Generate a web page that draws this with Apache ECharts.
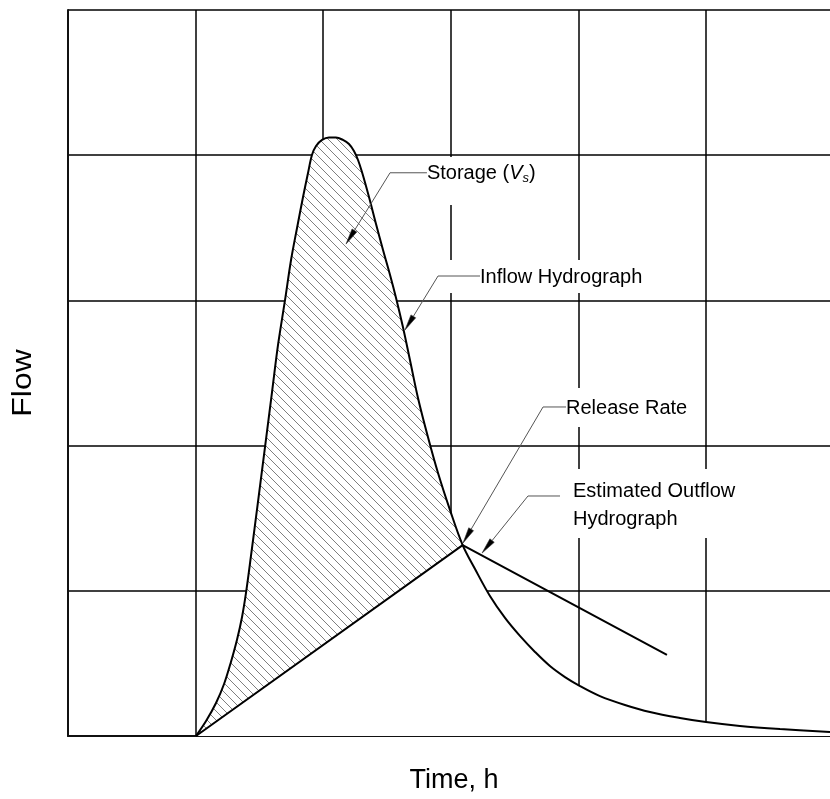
<!DOCTYPE html>
<html><head><meta charset="utf-8">
<script src="https://cdn.jsdelivr.net/npm/echarts@6/dist/echarts.min.js"></script>
<style>html,body{margin:0;padding:0;background:#fff}#c{width:830px;height:799px}</style>
</head><body><div id="c"></div>
<script>
// ---- data (grid units: 1 cell = 1 unit) ----
const xMin = 0, xMax = 5.972;   // the 6th cell is cut by the picture edge
const yMin = 0, yMax = 5;
const inflowX = [1.003, 1.082, 1.160, 1.223, 1.277, 1.324, 1.364, 1.395, 1.434, 1.489, 1.544, 1.599, 1.646, 1.701, 1.748, 1.795, 1.842, 1.881, 1.912, 1.944, 1.991, 2.045, 2.100, 2.155, 2.202, 2.241, 2.273, 2.304, 2.359, 2.414, 2.469, 2.524, 2.571, 2.625, 2.680, 2.743, 2.821, 2.900, 2.994, 3.093, 3.190, 3.307, 3.425, 3.542, 3.660, 3.777, 3.895, 4.013, 4.169, 4.365, 4.561, 4.796, 5.000, 5.266, 5.580, 5.972];
const inflowY = [0.000, 0.103, 0.227, 0.358, 0.510, 0.661, 0.820, 0.985, 1.240, 1.612, 1.990, 2.369, 2.693, 3.003, 3.278, 3.499, 3.712, 3.877, 4.001, 4.063, 4.105, 4.122, 4.122, 4.105, 4.077, 4.029, 3.967, 3.884, 3.712, 3.526, 3.347, 3.175, 3.017, 2.817, 2.590, 2.328, 2.059, 1.811, 1.556, 1.315, 1.150, 0.964, 0.813, 0.689, 0.579, 0.482, 0.406, 0.344, 0.275, 0.214, 0.165, 0.124, 0.096, 0.069, 0.048, 0.028];
const outflowX = [1.003, 3.093, 4.694];
const outflowY = [0.000, 1.315, 0.558];
const releaseX = 3.093;

// annotations
const annoText = ['{n|Storage (}{i|V}{sub|s}{n|)}', 'Inflow Hydrograph', 'Release Rate', 'Estimated Outflow\nHydrograph'];
const annoTextPos = [[2.813, 3.871], [3.229, 3.161], [3.903, 2.259], [3.958, 1.591]];
const annoStart = [[2.813, 3.879], [3.229, 3.168], [3.903, 2.266], [3.856, 1.653]];
const annoElbow = [[2.524, 3.879], [2.900, 3.168], [3.723, 2.266], [3.605, 1.653]];
const annoTip = [[2.179, 3.388], [2.641, 2.796], [3.096, 1.329], [3.245, 1.260]];
const annoMask = [[2.790, 3.988, 3.738, 3.657], [2.915, 3.278, 4.600, 3.051], [3.856, 2.397, 4.914, 2.128], [3.895, 1.839, 5.306, 1.364]];

// ---- build ----
const inflowData = inflowX.map((x, i) => [x, inflowY[i]]);
const outflowData = outflowX.map((x, i) => [x, outflowY[i]]);
const hatchPoly = [];
inflowX.forEach((x, i) => { if (x <= releaseX + 1e-9) hatchPoly.push([x, inflowY[i]]); });

function hatchCanvas() {
  const n = 9;
  const c = document.createElement('canvas'); c.width = n; c.height = n;
  const g = c.getContext('2d');
  g.fillStyle = '#fff'; g.fillRect(0, 0, n, n);
  g.strokeStyle = '#707070'; g.lineWidth = 0.9;
  g.beginPath();
  g.moveTo(-1, -1); g.lineTo(n + 1, n + 1);
  g.moveTo(-1, n - 1); g.lineTo(1, n + 1);
  g.moveTo(n - 1, -1); g.lineTo(n + 1, 1);
  g.stroke();
  return c;
}
const pat = hatchCanvas();
const FONT = '"Liberation Sans", Arial, sans-serif';

const chart = echarts.init(document.getElementById('c'), null, {renderer: 'canvas'});
chart.setOption({
  animation: false,
  backgroundColor: '#fff',
  grid: {left: 68, top: 10, right: 0, bottom: 63},
  xAxis: {type: 'value', min: xMin, max: xMax, interval: 1,
    axisLine: {show: true, onZero: false, lineStyle: {color: '#111', width: 2}},
    axisTick: {show: false}, axisLabel: {show: false},
    splitLine: {show: true, showMaxLine: false, lineStyle: {color: '#000', width: 1.5}}},
  yAxis: {type: 'value', min: yMin, max: yMax, interval: 1,
    axisLine: {show: true, onZero: false, lineStyle: {color: '#111', width: 2}},
    axisTick: {show: false}, axisLabel: {show: false},
    splitLine: {show: true, lineStyle: {color: '#000', width: 1.5}}},
  graphic: [
    {type: 'text', x: 454, y: 781, style: {text: 'Time, h', font: '27px ' + FONT, fill: '#000', align: 'center', verticalAlign: 'middle'}},
    {type: 'text', x: 23.5, y: 383, rotation: Math.PI / 2, scaleX: 1.18,
      style: {text: 'Flow', font: '27px ' + FONT, fill: '#000', align: 'center', verticalAlign: 'middle'}}
  ],
  series: [
    {type: 'line', data: inflowData, smooth: 0.35, symbol: 'none', z: 2, silent: true,
      lineStyle: {width: 0}, areaStyle: {color: '#fff', opacity: 1}},
    {type: 'custom', data: [[0, 0]], z: 3, silent: true, clip: false,
      renderItem: (params, api) => ({
        type: 'polygon',
        shape: {points: hatchPoly.map(p => api.coord(p))},
        style: {fill: {image: pat, repeat: 'repeat'}, stroke: null}
      })},
    {type: 'line', data: outflowData, symbol: 'none', z: 4, silent: true,
      lineStyle: {color: '#000', width: 2}},
    {type: 'line', data: inflowData, smooth: 0.35, symbol: 'none', z: 4, silent: true,
      lineStyle: {color: '#000', width: 2}},
    {type: 'custom', data: annoText.map((t, i) => [i]), z: 5, silent: true, clip: false,
      renderItem: (params, api) => {
        const i = params.dataIndex;
        const m0 = api.coord([annoMask[i][0], annoMask[i][1]]);
        const m1 = api.coord([annoMask[i][2], annoMask[i][3]]);
        const s = api.coord(annoStart[i]), e = api.coord(annoElbow[i]), t = api.coord(annoTip[i]);
        const tp = api.coord(annoTextPos[i]);
        const dx = t[0] - e[0], dy = t[1] - e[1], len = Math.hypot(dx, dy);
        const ux = dx / len, uy = dy / len, L = 16, W = 2.8;
        const b = [t[0] - ux * L, t[1] - uy * L];
        return {type: 'group', children: [
          {type: 'rect', shape: {x: m0[0], y: m0[1], width: m1[0] - m0[0], height: m1[1] - m0[1]},
            style: {fill: '#fff', stroke: null}},
          {type: 'polyline', shape: {points: [s, e, b]}, style: {stroke: '#555', lineWidth: 1, fill: null}},
          {type: 'polygon', shape: {points: [t, [b[0] - uy * W, b[1] + ux * W], [b[0] + uy * W, b[1] - ux * W]]},
            style: {fill: '#000', stroke: '#333', lineWidth: 0.6}},
          {type: 'text', x: tp[0], y: tp[1], style: {
            text: annoText[i], font: '20px ' + FONT, fill: '#000', align: 'left', verticalAlign: 'middle',
            lineHeight: 28,
            rich: {
              n: {fontSize: 20, fontFamily: FONT, lineHeight: 22},
              i: {fontSize: 20, fontFamily: FONT, fontStyle: 'italic', lineHeight: 22},
              sub: {fontSize: 13, fontFamily: FONT, fontStyle: 'italic', lineHeight: 10, verticalAlign: 'bottom'}
            }}}
        ]};
      }}
  ]
});
</script></body></html>
